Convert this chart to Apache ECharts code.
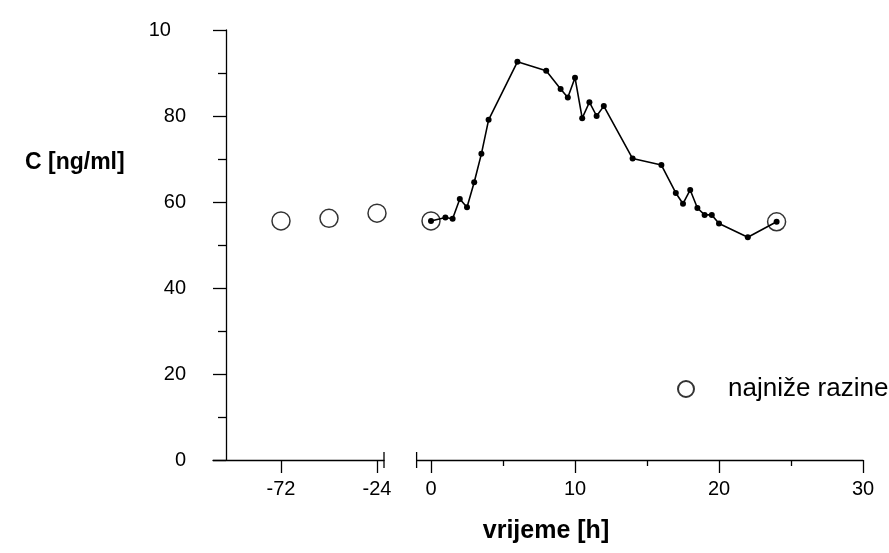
<!DOCTYPE html>
<html>
<head>
<meta charset="UTF-8">
<title></title>
<style>
  * { margin: 0; padding: 0; }
  html, body { width: 100%; height: 100%; background: #fff; overflow: hidden; }
  #chart { width: 889px; height: 553px; }
</style>
</head>
<body>
<div id="chart"></div>
<script src="https://cdn.jsdelivr.net/npm/echarts@6/dist/echarts.min.js"></script>
<script>
  // vremena i koncentracije
  var timeH = [0, 1, 1.5, 2, 2.5, 3, 3.5, 4, 6, 8, 9, 9.5, 10, 10.5, 11, 11.5, 12, 14, 16, 17, 17.5, 18, 18.5, 19, 19.5, 20, 22, 24];
  var concentration = [55.6, 56.4, 56.1, 60.7, 58.8, 64.6, 71.2, 79.1, 92.6, 90.5, 86.3, 84.3, 88.9, 79.5, 83.2, 80.0, 82.3, 70.1, 68.6, 62.1, 59.6, 62.8, 58.6, 57.0, 57.0, 55.0, 51.8, 55.4];
  // najnize razine (trough)
  var troughBeforeT = [-72, -48, -24];
  var troughBeforeC = [55.6, 56.2, 57.4];
  var troughAfterT = [0, 24];
  var troughAfterC = [55.6, 55.4];
  // oznake osi
  var xTicksBefore = [-72, -24];
  var xTicksAfter = [0, 10, 20, 30];
  var xMinorAfter = [5, 15, 25];
  var yTickValues = [0, 20, 40, 60, 80, 100];
  var yTickLabels = ['0', '20', '40', '60', '80', '10'];

  var font = 'Liberation Sans, Arial, sans-serif';
  var fs = 20;

  function pairs(xs, ys) {
    return xs.map(function (x, i) { return [x, ys[i]]; });
  }

  var chart = echarts.init(document.getElementById('chart'));

  var axisBase = {
    type: 'value',
    axisLine: { show: true, onZero: false, lineStyle: { color: '#000', width: 1.3 } },
    splitLine: { show: false },
    axisTick: { show: true, length: 13, lineStyle: { color: '#000', width: 1.3 } },
    axisLabel: { color: '#000', fontSize: fs, fontFamily: font, margin: 19 }
  };

  var titles = [
    { type: 'text', x: 25, y: 163, style: { text: 'C [ng/ml]', font: 'bold 23px ' + font, fill: '#000', verticalAlign: 'middle' } },
    { type: 'text', x: 546, y: 531, style: { text: 'vrijeme [h]', font: 'bold 25px ' + font, fill: '#000', align: 'center', verticalAlign: 'middle' } }
  ];

  var option = {
    backgroundColor: '#fff',
    animation: false,
    textStyle: { fontFamily: font },
    grid: [
      { left: 213, right: 505, top: 30, bottom: 93 },
      { left: 416.6, right: 26, top: 30, bottom: 93 }
    ],
    xAxis: [
      echarts.util.merge({
        gridIndex: 0, min: -106, max: -20.5,
        axisTick: { customValues: xTicksBefore },
        axisLabel: { customValues: xTicksBefore }
      }, axisBase, false),
      echarts.util.merge({
        gridIndex: 1, min: -1, max: 30,
        axisTick: { customValues: xTicksAfter },
        axisLabel: { customValues: xTicksAfter }
      }, axisBase, false),
      {
        type: 'value', gridIndex: 1, min: -1, max: 30, position: 'bottom',
        axisLine: { show: false, onZero: false },
        splitLine: { show: false },
        axisLabel: { show: false },
        axisTick: { show: true, length: 6, customValues: xMinorAfter, lineStyle: { color: '#000', width: 1.3 } }
      }
    ],
    yAxis: [
      echarts.util.merge({
        gridIndex: 0, min: 0, max: 100, interval: 20, offset: -13,
        minorTick: { show: true, splitNumber: 2, length: 8, lineStyle: { color: '#000', width: 1.3 } },
        axisLabel: {
          margin: 40,
          formatter: function (v) {
            var s = yTickLabels[yTickValues.indexOf(v)];
            return v === 100 ? '{a|' + s + '}{h|0}' : s;
          },
          rich: {
            a: { color: '#000', fontSize: fs, fontFamily: font },
            h: { color: 'rgba(0,0,0,0)', fontSize: fs, fontFamily: font, padding: [0, 4, 0, 0] }
          }
        }
      }, axisBase, false),
      { type: 'value', gridIndex: 1, min: 0, max: 100, show: false }
    ],
    legend: {
      left: 672, top: 371,
      itemWidth: 16, itemHeight: 16,
      textStyle: { color: '#000', fontSize: 26, fontFamily: font, padding: [0, 0, 0, 29] },
      data: ['najniže razine']
    },
    graphic: titles,
    series: [
      {
        type: 'line', xAxisIndex: 1, yAxisIndex: 1,
        data: pairs(timeH, concentration),
        symbol: 'circle', symbolSize: 6,
        lineStyle: { color: '#000', width: 1.6 },
        itemStyle: { color: '#000' }
      },
      {
        name: 'najniže razine', type: 'scatter', xAxisIndex: 0, yAxisIndex: 0,
        data: pairs(troughBeforeT, troughBeforeC),
        symbol: 'circle', symbolSize: 18,
        itemStyle: { color: 'rgba(0,0,0,0)', borderColor: '#000', borderWidth: 1.5 }
      },
      {
        name: 'najniže razine', type: 'scatter', xAxisIndex: 1, yAxisIndex: 1,
        data: pairs(troughAfterT, troughAfterC),
        symbol: 'circle', symbolSize: 18,
        itemStyle: { color: 'rgba(0,0,0,0)', borderColor: '#000', borderWidth: 1.5 }
      }
    ]
  };
  chart.setOption(option);

  // oznake prekida osi
  var breakRight = chart.convertToPixel({ xAxisIndex: 0 }, -20.5);
  var breakLeft = chart.convertToPixel({ xAxisIndex: 1 }, -1);
  var axisY = chart.convertToPixel({ yAxisIndex: 0 }, 0);
  chart.setOption({
    graphic: titles.concat([
      { type: 'line', shape: { x1: breakRight, y1: axisY - 8, x2: breakRight, y2: axisY + 8 }, style: { stroke: '#000', lineWidth: 1.3 } },
      { type: 'line', shape: { x1: breakLeft, y1: axisY - 8, x2: breakLeft, y2: axisY + 8 }, style: { stroke: '#000', lineWidth: 1.3 } }
    ])
  });
</script>
</body>
</html>
